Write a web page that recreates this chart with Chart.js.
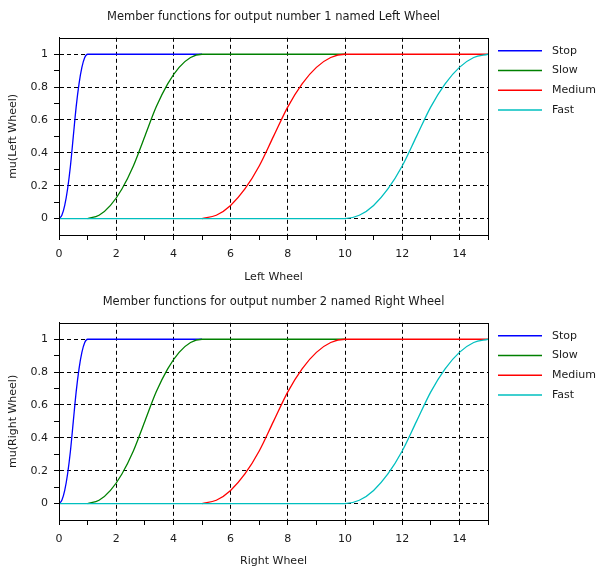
<!DOCTYPE html>
<html>
<head>
<meta charset="utf-8">
<script src="https://cdn.jsdelivr.net/npm/chart.js@4.4.1/dist/chart.umd.min.js"></script>
<style>
  body { margin: 0; background: #fff; }
  canvas { display: block; }
</style>
</head>
<body>
<canvas id="grafica1" width="601" height="285"></canvas>
<canvas id="grafica2" width="601" height="284"></canvas>
<script>
// Datos (funciones de pertenencia en S)
// solo los tramos que se ven en la imagen
const nombres = ['Stop', 'Slow', 'Medium', 'Fast'];
const colores = ['#0000ff', '#008000', '#ff0000', '#00bfbf'];

const stopX  = [0, 0.1, 0.2, 0.3, 0.4, 0.5, 0.6, 0.7, 0.8, 0.9, 1, 5];
const stopMu = [0, 0.02, 0.08, 0.18, 0.32, 0.5, 0.68, 0.82, 0.92, 0.98, 1, 1];

const slowX  = [1, 1.4, 1.8, 2.2, 2.6, 3, 3.4, 3.8, 4.2, 4.6, 5, 10];
const slowMu = [0, 0.02, 0.08, 0.18, 0.32, 0.5, 0.68, 0.82, 0.92, 0.98, 1, 1];

const mediumX  = [5, 5.5, 6, 6.5, 7, 7.5, 8, 8.5, 9, 9.5, 10, 15];
const mediumMu = [0, 0.02, 0.08, 0.18, 0.32, 0.5, 0.68, 0.82, 0.92, 0.98, 1, 1];

const fastX  = [0, 10, 10.5, 11, 11.5, 12, 12.5, 13, 13.5, 14, 14.5, 15];
const fastMu = [0, 0, 0.02, 0.08, 0.18, 0.32, 0.5, 0.68, 0.82, 0.92, 0.98, 1];

const xEtiquetas = [0, 2, 4, 6, 8, 10, 12, 14];
const yEtiquetas = [0, 0.2, 0.4, 0.6, 0.8, 1];

const salidas = [
    { id: 'grafica1', numero: 1, nombre: 'Left Wheel' },
    { id: 'grafica2', numero: 2, nombre: 'Right Wheel' }
];

const fuente = "'DejaVu Sans', sans-serif";
const colorTexto = '#1a1a1a';

function juntar(xs, ys) {
    return xs.map((x, i) => ({ x: x, y: ys[i] }));
}

function esMarcaX(v) {
    return xEtiquetas.some(e => Math.abs(e - v) < 1e-6);
}
function esMarcaY(v) {
    return yEtiquetas.some(e => Math.abs(e - v) < 1e-6);
}

// Leyenda a la derecha, estilo Scilab
const leyendaLateral = {
    id: 'leyendaLateral',
    afterDraw(chart) {
        const ctx = chart.ctx;
        const area = chart.chartArea;
        ctx.save();
        ctx.font = '11px ' + fuente;
        ctx.textBaseline = 'middle';
        chart.data.datasets.forEach((ds, i) => {
            const y = area.top + 13 + i * 19.7;
            ctx.strokeStyle = ds.borderColor;
            ctx.lineWidth = 1.5;
            ctx.beginPath();
            ctx.moveTo(area.right + 10, y);
            ctx.lineTo(area.right + 54, y);
            ctx.stroke();
            ctx.fillStyle = colorTexto;
            ctx.fillText(ds.label, area.right + 64, y);
        });
        ctx.restore();
    }
};

// Marco completo alrededor del area del grafico
const marco = {
    id: 'marco',
    afterDraw(chart) {
        const ctx = chart.ctx;
        const a = chart.chartArea;
        ctx.save();
        ctx.strokeStyle = '#000';
        ctx.lineWidth = 1;
        ctx.strokeRect(Math.round(a.left) + 0.5, Math.round(a.top) + 0.5,
            Math.round(a.right - a.left), Math.round(a.bottom - a.top));
        ctx.restore();
    }
};

function crearGrafica(salida) {
    const canvas = document.getElementById(salida.id);
    const alto = canvas.height;
    const series = [
        juntar(stopX, stopMu),
        juntar(slowX, slowMu),
        juntar(mediumX, mediumMu),
        juntar(fastX, fastMu)
    ];

    new Chart(canvas.getContext('2d'), {
        type: 'scatter',
        data: {
            datasets: nombres.map((n, i) => ({
                label: n,
                data: series[i],
                showLine: true,
                borderColor: colores[i],
                backgroundColor: colores[i],
                borderWidth: 1.3,
                pointRadius: 0,
                cubicInterpolationMode: 'monotone',
                order: nombres.length - i
            }))
        },
        options: {
            responsive: false,
            animation: false,
            layout: { padding: { left: 0, right: 113, top: 0, bottom: 0 } },
            plugins: {
                legend: { display: false },
                tooltip: { enabled: false },
                title: {
                    display: true,
                    fullSize: false,
                    text: 'Member functions for output number ' + salida.numero + ' named ' + salida.nombre,
                    color: colorTexto,
                    font: { family: fuente, size: 11.5, weight: 'normal' },
                    padding: { top: 10, bottom: 14 }
                }
            },
            scales: {
                x: {
                    type: 'linear',
                    min: 0,
                    max: 15,
                    afterFit: s => { s.height = alto - 235; },
                    ticks: {
                        stepSize: 1,
                        autoSkip: false,
                        maxRotation: 0,
                        padding: 8,
                        color: colorTexto,
                        font: { family: fuente, size: 11 },
                        callback: v => esMarcaX(v) ? String(v) : ''
                    },
                    grid: {
                        color: c => (c.tick && esMarcaX(c.tick.value) && c.tick.value > 0) ? '#000' : 'rgba(0,0,0,0)',
                        tickColor: '#000',
                        tickLength: 5,
                        lineWidth: 1
                    },
                    border: { display: true, color: '#000', width: 1, dash: [4, 3] },
                    title: {
                        display: true,
                        text: salida.nombre,
                        color: colorTexto,
                        font: { family: fuente, size: 11 },
                        padding: { top: 4, bottom: 1 }
                    }
                },
                y: {
                    type: 'linear',
                    min: -0.1,
                    max: 1.1,
                    afterFit: s => { s.width = 59; },
                    ticks: {
                        stepSize: 0.1,
                        autoSkip: false,
                        padding: 6,
                        color: colorTexto,
                        font: { family: fuente, size: 11 },
                        callback: v => esMarcaY(v) ? String(Math.round(v * 10) / 10) : ''
                    },
                    grid: {
                        color: c => (c.tick && esMarcaY(c.tick.value)) ? '#000' : 'rgba(0,0,0,0)',
                        tickColor: c => (c.tick && (c.tick.value < -0.05 || c.tick.value > 1.05)) ? 'rgba(0,0,0,0)' : '#000',
                        tickLength: 5,
                        lineWidth: 1
                    },
                    border: { display: true, color: '#000', width: 1, dash: [4, 3] },
                    title: {
                        display: true,
                        text: 'mu(' + salida.nombre + ')',
                        color: colorTexto,
                        font: { family: fuente, size: 11 },
                        padding: { top: 7, bottom: 7 }
                    }
                }
            }
        },
        plugins: [marco, leyendaLateral]
    });
}

salidas.forEach(s => crearGrafica(s));
</script>
</body>
</html>
